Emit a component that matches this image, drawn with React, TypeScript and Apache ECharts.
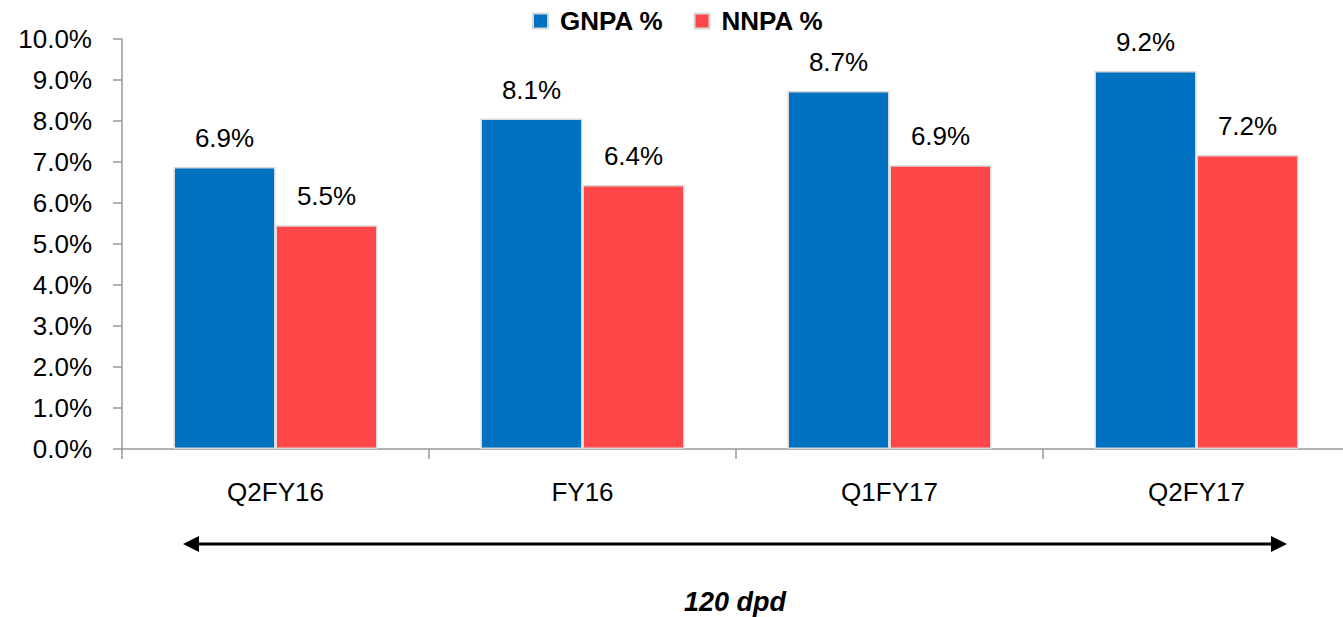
import React, { useEffect, useRef } from "react";
import * as echarts from "echarts";

const categories = ["Q2FY16", "FY16", "Q1FY17", "Q2FY17"];
const gnpa = [6.88, 8.06, 8.73, 9.22];
const nnpa = [5.46, 6.44, 6.92, 7.17];
const yTicks = { min: 0, max: 10, interval: 1 };
const seriesNames = ["GNPA %", "NNPA %"];
const footnote = "120 dpd";

const FONT = "'Liberation Sans', Arial, sans-serif";

export default function App() {
  const ref = useRef<HTMLDivElement>(null);
  useEffect(() => {
    if (!ref.current) return;
    const chart = echarts.init(ref.current, undefined, { renderer: "svg" });
    const labelCfg = {
      show: true,
      position: "top",
      distance: 16,
      color: "#000",
      fontSize: 26,
      fontFamily: FONT,
      formatter: (p: any) => p.value.toFixed(1) + "%",
    };
    chart.setOption({
      animation: false,
      textStyle: { fontFamily: FONT },
      legend: {
        top: 3,
        left: 527,
        itemWidth: 15,
        itemHeight: 15,
        itemGap: 30,
        textStyle: {
          fontSize: 26,
          fontWeight: "bold",
          color: "#000",
          fontFamily: FONT,
          padding: [0, 0, 0, 7],
        },
        data: seriesNames.map((n) => ({ name: n, icon: "rect" })),
      },
      grid: { left: 122, right: 0, top: 39, bottom: 168 },
      xAxis: {
        type: "category",
        data: categories,
        axisLine: { lineStyle: { color: "#999", width: 1.5 } },
        axisTick: { show: true, length: 10, lineStyle: { color: "#999", width: 1.5 } },
        axisLabel: { color: "#000", fontSize: 26, margin: 30, fontFamily: FONT },
      },
      yAxis: {
        type: "value",
        min: yTicks.min,
        max: yTicks.max,
        interval: yTicks.interval,
        splitLine: { show: false },
        axisLine: { show: true, lineStyle: { color: "#999", width: 1.5 } },
        axisTick: { show: true, length: 9, lineStyle: { color: "#999", width: 1.5 } },
        axisLabel: {
          color: "#000",
          fontSize: 26,
          margin: 30,
          fontFamily: FONT,
          formatter: (v: number) => v.toFixed(1) + "%",
        },
      },
      series: [
        {
          name: seriesNames[0],
          type: "bar",
          data: gnpa,
          barWidth: 102,
          barGap: "0%",
          itemStyle: { color: "#0070C0", borderColor: "#D9D9D9", borderWidth: 1.5 },
          label: labelCfg,
        },
        {
          name: seriesNames[1],
          type: "bar",
          data: nnpa,
          barWidth: 102,
          itemStyle: { color: "#FF4649", borderColor: "#D9D9D9", borderWidth: 1.5 },
          label: labelCfg,
        },
      ],
      graphic: [
        {
          type: "line",
          shape: { x1: 195, y1: 544, x2: 1272, y2: 544 },
          style: { stroke: "#000", lineWidth: 3 },
        },
        {
          type: "polygon",
          shape: { points: [[183, 544], [199, 536], [199, 552]] },
          style: { fill: "#000" },
        },
        {
          type: "polygon",
          shape: { points: [[1287, 544], [1271, 536], [1271, 552]] },
          style: { fill: "#000" },
        },
        {
          type: "text",
          x: 735,
          y: 602,
          style: {
            text: footnote,
            fontSize: 27,
            fontWeight: "bold",
            fontStyle: "italic",
            fontFamily: FONT,
            fill: "#000",
            align: "center",
            verticalAlign: "middle",
          },
        },
      ],
    });
    return () => chart.dispose();
  }, []);
  return (
    <div
      style={{
        position: "fixed",
        left: 0,
        top: 0,
        width: 1343,
        height: 617,
        overflow: "hidden",
        background: "#fff",
      }}
    >
      <div ref={ref} style={{ width: 1350, height: 617 }} />
    </div>
  );
}
